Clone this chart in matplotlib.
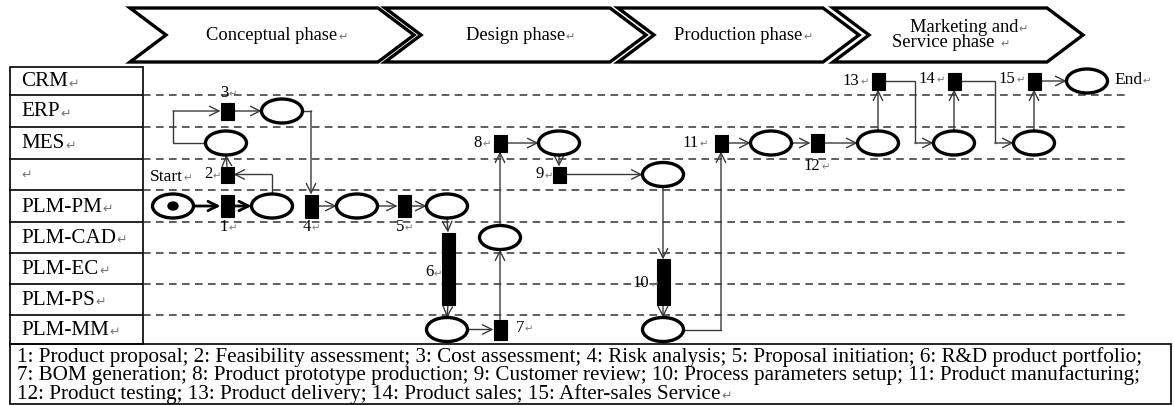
import matplotlib
matplotlib.use("Agg")
import matplotlib.pyplot as plt
from matplotlib.patches import Ellipse, Rectangle, Polygon
import numpy as np

plt.rcParams['font.family'] = ['Liberation Serif', 'DejaVu Sans']

# swimlanes (top to bottom) and their edges in pixel rows
lanes = ["CRM↵", "ERP↵", "MES↵", "↵", "PLM-PM↵", "PLM-CAD↵", "PLM-EC↵", "PLM-PS↵", "PLM-MM↵"]
lane_edges = [67, 95, 127, 159, 190, 222, 253, 284, 315, 344]

# phase banners: left x, right x, label lines
phases = [["Conceptual phase↵"], ["Design phase↵"], ["Production phase↵"],
          ["Marketing and↵", "Service phase ↵"]]
phase_left = [130, 385, 618, 833]
phase_right = [378, 610, 823, 1047]

# places: id, x, lane
place_ids = ["start", "p1", "p2", "p3", "p4", "p5", "p6", "p7", "p8", "p9", "p10",
             "p11", "p12", "p13", "p14", "end"]
place_x = [173, 272, 226, 282, 357, 447, 447, 500, 559, 663, 663, 771, 878, 954, 1034, 1087]
place_lane = [4, 4, 2, 1, 4, 4, 8, 5, 2, 3, 8, 2, 2, 2, 2, 0]

# transitions: id, x, lane (fractional = between lanes), height
trans_ids = ["t1", "t2", "t3", "t4", "t5", "t6", "t7", "t8", "t9", "t10",
             "t11", "t12", "t13", "t14", "t15"]
trans_x = [227, 227, 227, 311, 404, 448, 500, 500, 559, 663, 721, 817, 878, 954, 1034]
trans_lane = [4, 3, 1, 4, 4, 6.0, 8, 2, 3, 6.45, 2, 2, 0, 0, 0]
trans_h = [22, 16, 17, 23, 22, 72, 20, 17, 16, 46, 17, 18, 17, 17, 17]
trans_label = ["1↵", "2↵", "3↵", "4↵", "5↵", "6↵", "7↵", "8↵", "9↵", "10↵",
               "11↵", "12↵", "13↵", "14↵", "15↵"]
# label offset (dx, dy) from transition centre
trans_label_off = [(-3, 21), (-19, 0), (-3, -18), (-4, 21), (-4, 21), (-19, 4), (20, -2),
                   (-22, 0), (-19, 0), (-22, 1), (-30, 0), (-5, 23), (-27, 0), (-27, -2), (-27, -2)]

# arcs: source, target, route ('h','v','vh','hv','hvh'), bend x for 'hvh', thick
arcs = [
    ("start", "t1", "h", None, True),
    ("t1", "p1", "h", None, True),
    ("p1", "t2", "vh", None, False),
    ("t2", "p2", "v", None, False),
    ("p2", "t3", "hvh", 173, False),
    ("t3", "p3", "h", None, False),
    ("p3", "t4", "hv", None, False),
    ("t4", "p4", "h", None, False),
    ("p4", "t5", "h", None, False),
    ("t5", "p5", "h", None, False),
    ("p5", "t6", "v", None, False),
    ("t6", "p6", "v", None, False),
    ("p6", "t7", "h", None, False),
    ("t7", "p7", "v", None, False),
    ("p7", "t8", "v", None, False),
    ("t8", "p8", "h", None, False),
    ("p8", "t9", "v", None, False),
    ("t9", "p9", "h", None, False),
    ("p9", "t10", "v", None, False),
    ("t10", "p10", "v", None, False),
    ("p10", "t11", "hv", None, False),
    ("t11", "p11", "h", None, False),
    ("p11", "t12", "h", None, False),
    ("t12", "p12", "h", None, False),
    ("p12", "t13", "v", None, False),
    ("t13", "p13", "hvh", 915, False),
    ("p13", "t14", "v", None, False),
    ("t14", "p14", "hvh", 995, False),
    ("p14", "t15", "v", None, False),
    ("t15", "end", "h", None, False),
]

legend_lines = [
    "1: Product proposal; 2: Feasibility assessment; 3: Cost assessment; 4: Risk analysis; 5: Proposal initiation; 6: R&D product portfolio;",
    "7: BOM generation; 8: Product prototype production; 9: Customer review; 10: Process parameters setup; 11: Product manufacturing;",
    "12: Product testing; 13: Product delivery; 14: Product sales; 15: After-sales Service↵",
]

fig = plt.figure(figsize=(11.74, 4.05), dpi=100)
ax = fig.add_axes([0, 0, 1, 1])
ax.set_xlim(0, 1174)
ax.set_ylim(405, 0)
ax.axis("off")

lane_mid = [(a + b) / 2 for a, b in zip(lane_edges[:-1], lane_edges[1:])]


def lane_y(v):
    return float(np.interp(v, range(len(lane_mid)), lane_mid))


def label(x, y, s, size, ha="left", zorder=5):
    # Word-style paragraph mark drawn small and grey after the text
    mark = s.endswith("↵")
    body = s[:-1] if mark else s
    if not body:
        return ax.text(x, y, "↵", ha=ha, va="center", fontsize=size * 0.6,
                       color="#777777", family="DejaVu Sans", zorder=zorder)
    t = ax.text(x, y, body, ha=ha, va="center", fontsize=size, zorder=zorder)
    if mark:
        ax.annotate("↵", xy=(1, 0.4), xycoords=t, xytext=(0.5, 0), textcoords="offset points",
                    ha="left", va="center", fontsize=size * 0.6, color="#777777",
                    family="DejaVu Sans", zorder=zorder)
    return t


# phase chevrons
tip = 36
y_top, y_bot = 8, 62
for lines, xl, xr in zip(phases, phase_left, phase_right):
    pts = [(xl, y_top), (xr, y_top), (xr + tip, (y_top + y_bot) / 2), (xr, y_bot),
           (xl, y_bot), (xl + tip, (y_top + y_bot) / 2)]
    ax.add_patch(Polygon(pts, closed=True, fc="white", ec="black", lw=2.4, joinstyle="miter"))
    yc = (y_top + y_bot) / 2
    n = len(lines)
    for k, ln in enumerate(lines):
        dy = (k - (n - 1) / 2) * 15
        dx = 0 if n == 1 else (6 if k == 0 else -12)
        label((xl + xr + tip) / 2 + dx, yc + dy, ln, 13.3, ha="center")

# lane label column and dashed separators
ax.add_patch(Rectangle((10, lane_edges[0]), 133, lane_edges[-1] - lane_edges[0],
                       fill=False, ec="black", lw=1.2))
for y in lane_edges[1:-1]:
    ax.plot([10, 143], [y, y], color="black", lw=1.2)
    ax.plot([143, 1125], [y, y], color="#333333", lw=1.1, ls=(0, (5, 3.5)))
for lbl, ym in zip(lanes, lane_mid):
    label(21, ym + 1, lbl, 15.2)

# legend box
ax.add_patch(Rectangle((10, lane_edges[-1]), 1161, 405 - lane_edges[-1] - 1,
                       fill=False, ec="black", lw=1.2))
for i, line in enumerate(legend_lines):
    label(17, 357 + i * 18.5, line, 15.2)

# node geometry lookup
geo = {}
pw, ph = 41, 24
for pid, x, ln in zip(place_ids, place_x, place_lane):
    geo[pid] = (x, lane_y(ln), pw, ph)
tw = 13
for tid, x, ln, h in zip(trans_ids, trans_x, trans_lane, trans_h):
    geo[tid] = (x, lane_y(ln), tw, h)


def port(nid, side):
    x, y, w, h = geo[nid]
    return {"l": (x - w / 2, y), "r": (x + w / 2, y), "t": (x, y - h / 2), "b": (x, y + h / 2)}[side]


# arcs
for src, dst, route, bx, thick in arcs:
    sx, sy = geo[src][:2]
    dx, dy = geo[dst][:2]
    if route == "h":
        s, d = ("r", "l") if dx > sx else ("l", "r")
        pts = [port(src, s), port(dst, d)]
    elif route == "v":
        s, d = ("b", "t") if dy > sy else ("t", "b")
        pts = [port(src, s), port(dst, d)]
    elif route == "vh":
        p0 = port(src, "t" if dy < sy else "b")
        pts = [p0, (sx, dy), port(dst, "r" if dx < sx else "l")]
    elif route == "hv":
        p0 = port(src, "r" if dx > sx else "l")
        pts = [p0, (dx, sy), port(dst, "b" if dy < sy else "t")]
    else:  # hvh
        p0 = port(src, "r" if bx > sx else "l")
        pts = [p0, (bx, sy), (bx, dy), port(dst, "l" if dx > bx else "r")]
    lw = 2.0 if thick else 1.0
    col = "black" if thick else "#3a3a3a"
    xs, ys = zip(*pts[:-1])
    if len(pts) > 2:
        ax.plot(xs, ys, color=col, lw=lw, solid_joinstyle="miter")
    ax.annotate("", xy=pts[-1], xytext=pts[-2],
                arrowprops=dict(arrowstyle="->", color=col, lw=lw, shrinkA=0, shrinkB=0,
                                mutation_scale=17))

# places
for pid in place_ids:
    x, y, w, h = geo[pid]
    ax.add_patch(Ellipse((x, y), w, h, fc="white", ec="black", lw=2.4, zorder=3))
x, y, w, h = geo["start"]
ax.add_patch(Ellipse((x, y), 10, 8, fc="black", ec="black", zorder=4))
label(x - 23, y - 29, "Start↵", 12.5)
x, y, w, h = geo["end"]
label(x + 27, y - 1, "End↵", 12.5)

# transitions
for tid, lbl, (ox, oy) in zip(trans_ids, trans_label, trans_label_off):
    x, y, w, h = geo[tid]
    ax.add_patch(Rectangle((x - w / 2, y - h / 2), w, h, fc="black", ec="black", lw=0.8, zorder=3))
    label(x + ox, y + oy, lbl, 12, ha="center")

fig.savefig("out.png", dpi=100)
